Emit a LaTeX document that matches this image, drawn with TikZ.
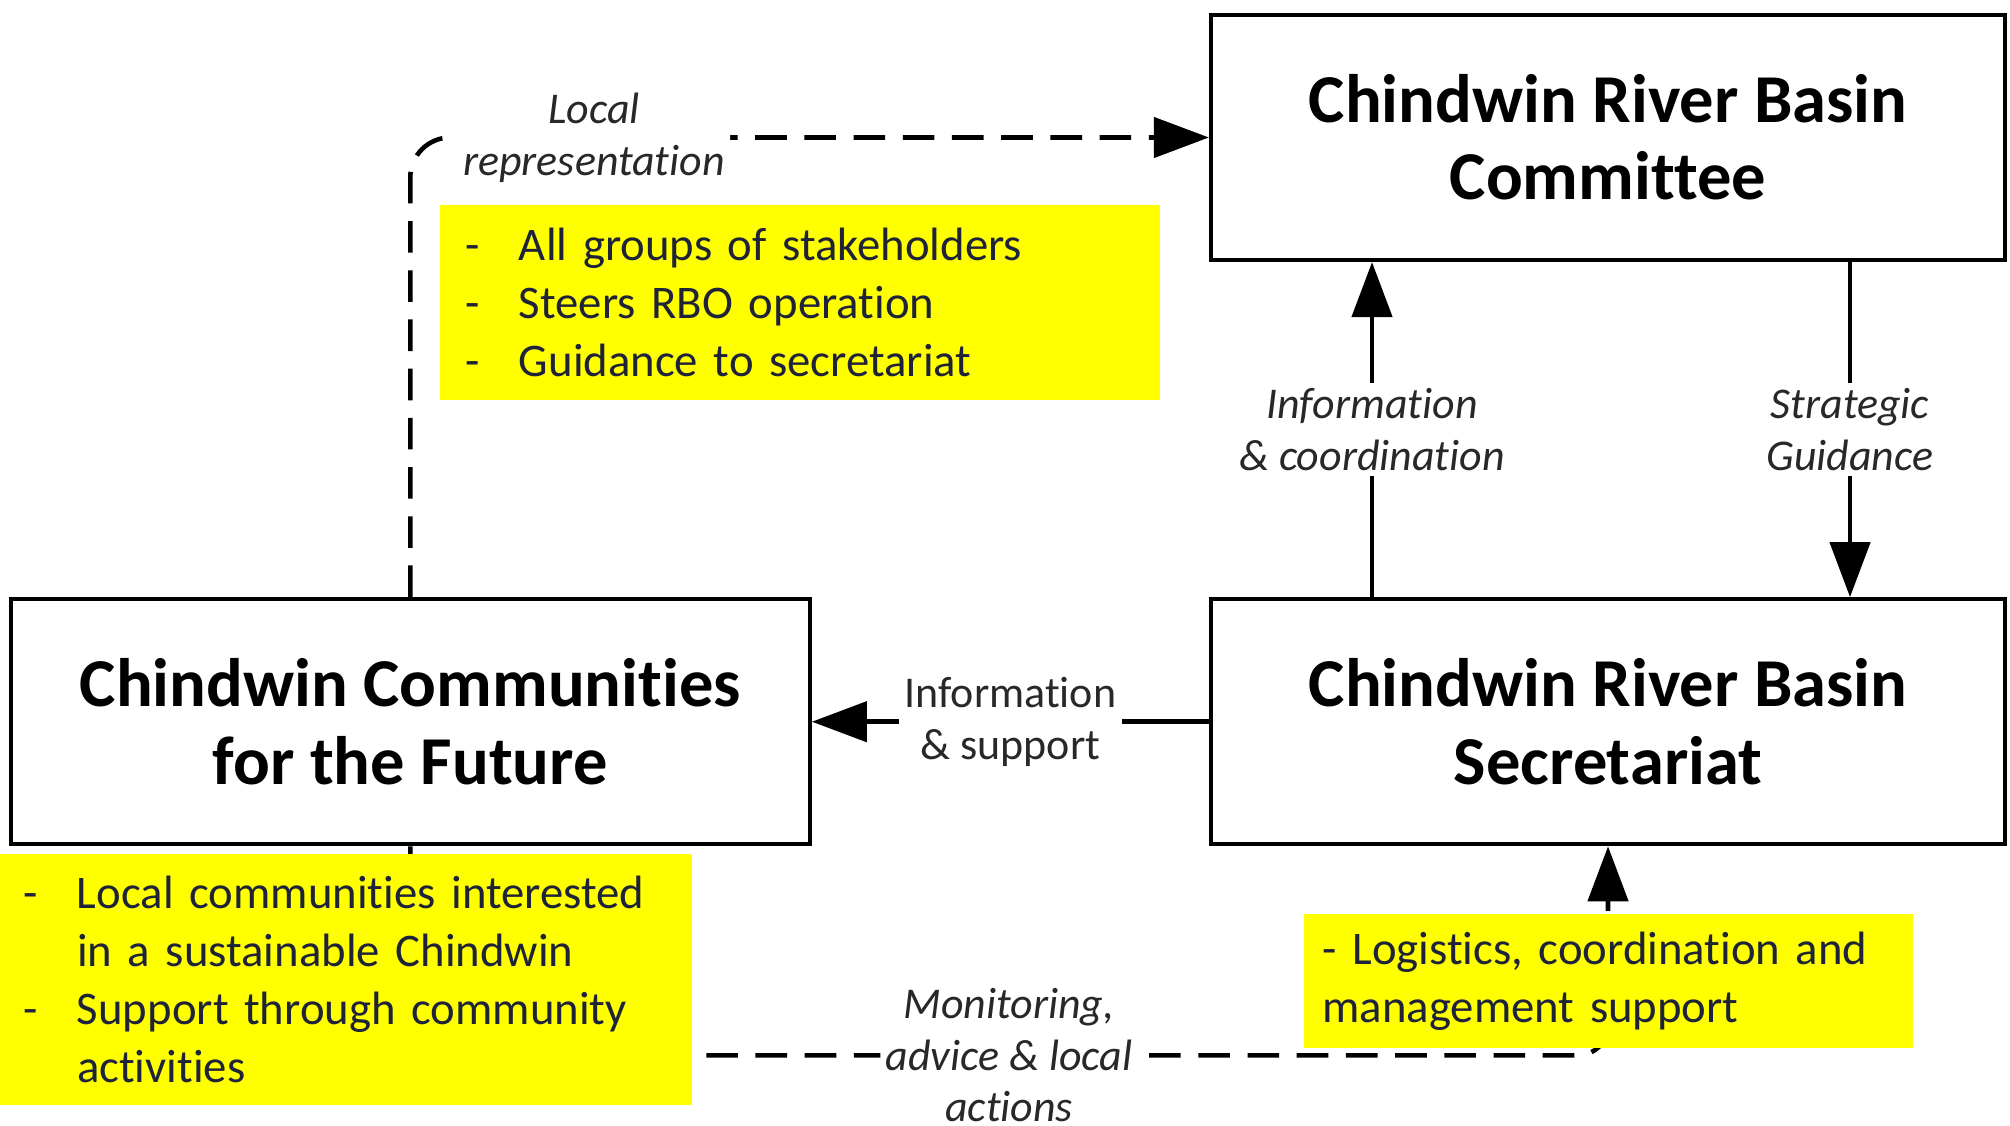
\documentclass[tikz,border=0pt]{standalone}
\usepackage{fontspec}
\setmainfont{Carlito}[Ligatures=NoCommon]
\usepackage{xcolor}
\usetikzlibrary{arrows.meta, positioning}
\definecolor{noteyellow}{RGB}{255,255,0}
\definecolor{notetext}{RGB}{30,35,55}
\definecolor{labeltext}{RGB}{40,40,40}
\newcommand{\dashitem}[1]{\makebox[0.54cm][l]{-}#1}
\newcommand{\itemcont}[1]{\hspace*{0.54cm}#1}
\tikzset{
    body/.style={
        rectangle,
        draw=black,
        line width=1.2pt,
        minimum width=7.94cm,
        minimum height=2.45cm,
        fill=white,
        align=center,
        font=\fontsize{19.5}{22}\selectfont\bfseries
    },
    note/.style={
        rectangle,
        fill=noteyellow,
        text=notetext,
        align=left,
        inner ysep=0pt,
        font=\fontsize{13.3}{16.5}\selectfont
    },
    flowlabel/.style={
        fill=white,
        text=labeltext,
        align=center,
        inner sep=1.5pt,
        font=\fontsize{12.5}{14.7}\selectfont\itshape
    },
    flow/.style={
        draw=black,
        line width=1.3pt,
        -{Triangle[length=5.5mm,width=4mm]}
    },
    dashflow/.style={
        flow,
        dash pattern=on 9pt off 5pt
    }
}
\begin{document}
\begin{tikzpicture}
\useasboundingbox (0,0) rectangle (20.1,11.25);

% Bodies
\node[body] (committee) at (16.08,9.875) {Chindwin River Basin\\Committee};
\node[body, below=3.35cm of committee] (secretariat) {Chindwin River Basin\\Secretariat};
\node[body, left=3.97cm of secretariat, minimum width=7.99cm] (communities) {Chindwin Communities\\for the Future};

% Committee and secretariat
\draw[flow] ([xshift=-2.36cm]secretariat.north) -- node[flowlabel] {Information\\\& coordination} ([xshift=-2.36cm]committee.south);
\draw[flow] ([xshift=2.42cm]committee.south) -- node[flowlabel] {Strategic\\Guidance} ([xshift=2.42cm]secretariat.north);

% Secretariat to communities
\draw[flow] (secretariat.west) -- node[flowlabel, font=\fontsize{12.5}{14.7}\selectfont] {Information\\\& support} (communities.east);

% Communities loops
\draw[dashflow, rounded corners=4mm] (communities.north) |- node[flowlabel, pos=0.615] {Local\\representation} (committee.west);
\draw[dashflow, rounded corners=3mm] (communities.south) -- ++(0,-2.09) -| node[flowlabel, pos=0.25] {Monitoring,\\advice \& local\\actions} (secretariat.south);

% Notes
\node[note, text width=6.7cm, inner xsep=0.25cm, minimum height=1.95cm] (stakenote) at (8.00,8.225) {\dashitem{All groups of stakeholders}\\\dashitem{Steers RBO operation}\\\dashitem{Guidance to secretariat}};
\node[note, text width=6.46cm, inner xsep=0.23cm, minimum height=2.51cm] (localnote) at (3.46,1.455) {\dashitem{Local communities interested}\\\itemcont{in a sustainable Chindwin}\\\dashitem{Support through community}\\\itemcont{activities}};
\node[note, text width=5.71cm, inner xsep=0.19cm, minimum height=1.34cm, below=0.67cm of secretariat] (supportnote) {- Logistics, coordination and\\management support};

\end{tikzpicture}
\end{document}
